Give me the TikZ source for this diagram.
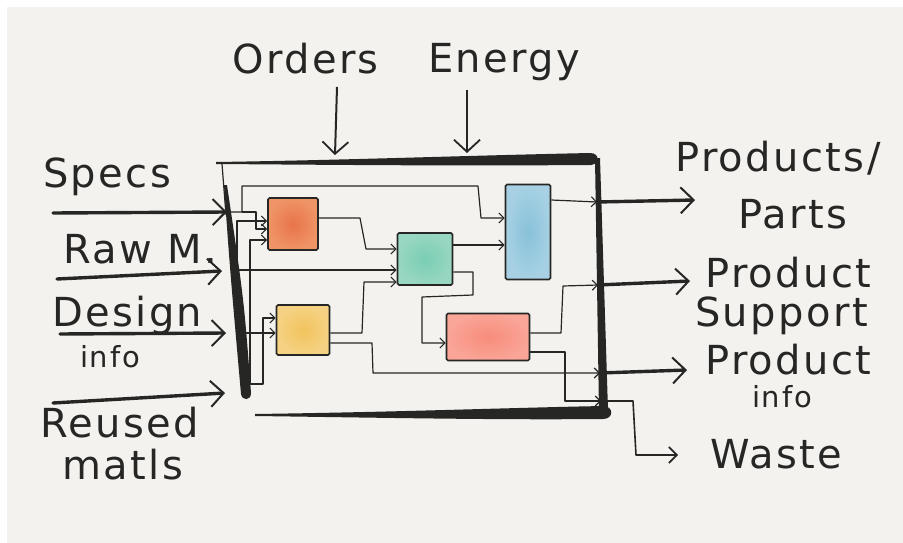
\documentclass[tikz,border=0pt]{standalone}
\usepackage{fontspec}
\setmainfont{DejaVu Sans}[LetterSpace=6]
\usetikzlibrary{arrows.meta}
\definecolor{paper}{HTML}{F3F2EF}
\definecolor{ink}{HTML}{262624}
\definecolor{orC}{HTML}{E8744A}\definecolor{orL}{HTML}{EF9466}
\definecolor{grC}{HTML}{7ACDB3}\definecolor{grL}{HTML}{98D7C2}
\definecolor{blC}{HTML}{88C1DA}\definecolor{blL}{HTML}{A7D1E3}
\definecolor{yeC}{HTML}{F2C35E}\definecolor{yeL}{HTML}{F5D283}
\definecolor{saC}{HTML}{F88C7C}\definecolor{saL}{HTML}{F9A597}
\tikzset{
  lbl/.style={font=\fontsize{40}{42}\selectfont, text=ink, inner sep=0pt, anchor=base west},
  small/.style={font=\fontsize{29}{31}\selectfont},
  blk/.style={draw=ink, line width=1.7pt, inner sep=0pt, rounded corners=1.5pt},
  wire/.style={draw=ink, line width=1.2pt, line join=round,
    -{Straight Barb[length=5pt,width=10pt,line width=1.1pt]}},
  flow/.style={draw=ink, line width=3.4pt, line cap=round,
    -{Straight Barb[length=13pt,width=26pt,line width=2pt]}},
  feed/.style={draw=ink, line width=2pt,
    -{Straight Barb[length=12pt,width=26pt,line width=1.8pt]}},
  thinflow/.style={draw=ink, line width=1.6pt, line join=round,
    -{Straight Barb[length=8pt,width=16pt,line width=1.6pt]}},
}
\begin{document}
\begin{tikzpicture}[x=1pt,y=-1pt]
\useasboundingbox (0,0) rectangle (903,543);
\fill[white] (0,0) rectangle (903,543);
\fill[paper] (7,7) rectangle (903,543);

% enclosure: brush strokes
\draw[ink, line width=1.2pt] (222,164) -- (226,215);
\fill[ink] (216,162) .. controls (350,160) and (450,156) .. (590,153)
  .. controls (600,153) and (600,164) .. (591,165)
  .. controls (450,166) and (350,165) .. (216,164) -- cycle;
\fill[ink] (224,185) .. controls (230,270) .. (241,394)
  .. controls (242,401) and (251,401) .. (251,393)
  .. controls (244,300) .. (227,185) -- cycle;
\fill[ink] (595,158) -- (600,158) -- (608,410) -- (599,412) -- cycle;
\fill[ink] (255,414) .. controls (400,412) and (500,408) .. (603,406)
  .. controls (614,406) and (614,419) .. (603,419)
  .. controls (500,420) and (400,418) .. (255,416) -- cycle;

% process blocks
\node[blk, inner color=orC, outer color=orL, minimum width=50pt, minimum height=52pt] (orange) at (293,224) {};
\node[blk, inner color=grC, outer color=grL, minimum width=55pt, minimum height=52pt] (green) at (425,259) {};
\node[blk, inner color=blC, outer color=blL, minimum width=45pt, minimum height=95pt] (blue) at (528,232) {};
\node[blk, inner color=yeC, outer color=yeL, minimum width=53pt, minimum height=50pt] (yellow) at (303,330) {};
\node[blk, inner color=saC, outer color=saL, minimum width=83pt, minimum height=47pt] (salmon) at (488,337) {};

% entry and exit points on the enclosure
\coordinate (specIn) at (227,212);
\coordinate (specJ) at (242,212);
\coordinate (rawTip) at (222,271);
\coordinate (rawIn) at (237,270);
\coordinate (desTip) at (226,333);
\coordinate (desIn) at (241,333);
\coordinate (reuTip) at (225,393);
\coordinate (reuIn) at (246,384);
\coordinate (ordTip) at (335,155);
\coordinate (eneTip) at (467,153);
\coordinate (ppW) at (597,202);
\coordinate (psW) at (598,285);
\coordinate (piW) at (600,373);
\coordinate (wW) at (601,401);

% internal connections
\draw[wire] (specIn) -| (242,186) -- (478,186) -- (481,218) -- (blue.west |- 0,218);
\draw[wire] (specJ) -- (256,212) -- (256,229) -- (orange.west |- 0,229);
\draw[wire] (rawIn) |- (orange.west |- 0,221);
\draw[wire] (reuIn) -| (250,240) -- (orange.west |- 0,240);
\draw[wire] (reuIn) -| (263,318) -- (yellow.west |- 0,318);
\draw[wire] (desIn) -- (yellow.west |- desIn);
\draw[wire] (rawIn) -- (green.west |- rawIn);
\draw[wire] (orange.east |- 0,218) -- (360,218) -- (366,249) -- (green.west |- 0,249);
\draw[wire] (yellow.east |- 0,333) -- (362,333) -- (364,282) -- (green.west |- 0,282);
\draw[wire] (green.east |- 0,245) -- (blue.west |- 0,245);
\draw[wire] (green.east |- 0,272) -- (473,272) -- (473,295) -- (422,297) -- (422,343) -- (salmon.west |- 0,343);
\draw[wire] (yellow.east |- 0,343) -- (372,343) -- (373,373) -- (piW);
\draw[wire] (salmon.east |- 0,333) -- (561,333) -- (563,286) -- (psW);
\draw[wire] (salmon.east |- 0,352) -- (565,352) -- (565,401) -- (wW);
\draw[wire] (blue.east |- 0,200) -- (ppW);

% labels
\node[lbl] (orders) at (232,74) {Orders};
\node[lbl] (energy) at (428,73) {Energy};
\node[lbl] (specs) at (43,187) {Specs};
\node[lbl] (rawm) at (63,263) {Raw M.};
\node[lbl] (design) at (52,326) {Design};
\node[lbl, small] (dinfo) at (80,367) {info};
\node[lbl] (reused) at (40,437) {Reused};
\node[lbl] (matls) at (62,479) {matls};
\node[lbl] (prods) at (675,171) {Products/};
\node[lbl] (parts) at (738,228) {Parts};
\node[lbl] (psup1) at (705,287) {Product};
\node[lbl] (psup2) at (695,326) {Support};
\node[lbl] (pinf1) at (705,374) {Product};
\node[lbl, small] (pinf2) at (752,407) {info};
\node[lbl] (waste) at (710,468) {Waste};

% external flows
\coordinate (specA) at (53,213);
\coordinate (rawA) at (57,279);
\coordinate (desA) at (60,334);
\coordinate (reuA) at (53,403);
\coordinate (ordA) at (337,87);
\coordinate (eneA) at (467,90);
\coordinate (ppTip) at (695,200);
\coordinate (psTip) at (690,281);
\coordinate (piTip) at (687,370);
\coordinate (wTip) at (678,455);

\draw[flow] (specA) -- (specIn);
\draw[flow] (rawA) -- (rawTip);
\draw[flow] (desA) -- (desTip);
\draw[flow] (reuA) -- (reuTip);
\draw[feed] (ordA) -- (ordTip);
\draw[feed] (eneA) -- (eneTip);
\draw[flow] (ppW) -- (ppTip);
\draw[flow] (psW) -- (psTip);
\draw[flow] (piW) -- (piTip);
\draw[thinflow] (wW) -- (633,401) -- (636,455) -- (wTip);
\end{tikzpicture}
\end{document}
